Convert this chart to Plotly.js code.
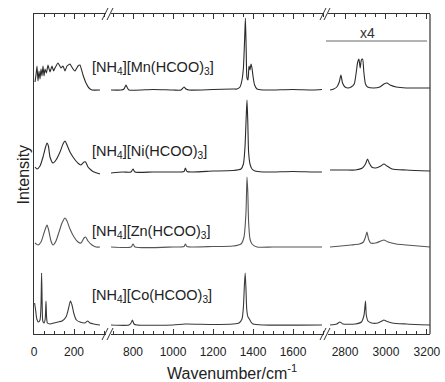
<!DOCTYPE html>
<html>
<head>
<meta charset="utf-8">
<script src="https://cdn.plot.ly/plotly-3.0.1.min.js"></script>
<style>html,body{margin:0;padding:0;background:#fff;}#chart{width:445px;height:382px;}</style>
</head>
<body>
<div id="chart"></div>
<script>
// ---------- data (wavenumber in cm-1, intensity in arbitrary units relative to each baseline) ----------
const compounds = ["Mn", "Ni", "Zn", "Co"];
const offsets = [244, 162, 87, 9];

// [NH4][Mn(HCOO)3]
const mnLowX = [5,10,15,20,25,30,35,40,45,50,55,62,70,80,90,98,105,120,135,145,155,165,180,195,205,220,230,245,260,275,290,330];
const mnLowY = [8,15,24,9,19,11,21,14,24,14,21,17,25,18,24,19,22,27,22,24,19,24,26,21,19,24,25,15,7,2,0,0];
const mnMidX = [690,740,755,765,772,780,900,1000,1040,1055,1065,1080,1200,1300,1320,1335,1345,1352,1358,1362,1366,1370,1375,1380,1385,1390,1395,1400,1408,1420,1450,1500,1600,1700,1745];
const mnMidY = [0,0,1,5,2,0,0.5,0,0,3,1,0,0.5,1,1,3,10,22,50,72,40,12,10,24,20,26,22,14,5,1,0,0,0.5,0,0.5];
const mnHighX = [2727,2745,2760,2772,2780,2788,2800,2815,2830,2845,2855,2862,2868,2874,2880,2886,2892,2900,2910,2940,2970,2990,3005,3020,3050,3100,3150,3200,3215];
const mnHighY = [0,1,3,8,15,7,3,2,3,6,18,28,31,22,30,31,18,6,3,2,3,6,7,5,3,2,2,2,2];

// [NH4][Ni(HCOO)3]
const niLowX = [5,15,30,45,58,65,72,80,95,110,130,145,155,165,180,195,210,225,235,250,258,270,285,300,330];
const niLowY = [5,3,6,15,25,29,26,15,9,12,20,28,31,27,20,15,11,8,7,10,10,5,2,0,-2];
const niMidX = [690,750,790,800,810,900,1000,1055,1062,1070,1200,1300,1340,1352,1360,1366,1370,1374,1378,1385,1395,1410,1450,1500,1600,1700,1745];
const niMidY = [-1,0,0,3,0,0,0,0.5,4,0.5,1,1.5,3,8,25,55,72,50,20,8,3,1,0,0,0.5,0,0];
const niHighX = [2727,2800,2850,2885,2900,2910,2918,2930,2950,2975,2990,3005,3030,3100,3215];
const niHighY = [2,2,2,4,8,13,9,5,4,6,8,6,3,2,1];

// [NH4][Zn(HCOO)3]
const znLowX = [5,20,35,50,60,65,72,85,95,110,125,140,155,165,180,200,220,235,250,258,270,290,310,330];
const znLowY = [4,2,5,14,20,22,18,6,2,6,15,24,29,26,18,10,5,4,9,10,6,2,0,0];
const znMidX = [690,790,800,810,1000,1055,1062,1070,1200,1300,1340,1355,1365,1370,1374,1378,1385,1395,1420,1500,1745];
const znMidY = [0,0,3,0,0,0.5,3,0.5,0.5,1,3,10,35,70,55,25,8,3,0,0,0];
const znHighX = [2727,2780,2830,2870,2890,2900,2907,2915,2925,2950,2975,2990,3010,3050,3100,3215];
const znHighY = [0,1,2,3,5,10,15,8,4,4,6,7,5,3,2,0];

// [NH4][Co(HCOO)3]
const coLowX = [3,8,14,22,30,35,38,41,44,50,56,60,63,67,80,100,120,140,160,172,182,190,200,212,230,255,268,280,300,330];
const coLowY = [22,15,6,3,5,20,52,20,4,2,6,24,8,2,1,2,3,4,8,16,24,20,11,5,3,2,4,2,1,0];
const coMidX = [690,780,790,797,805,820,1000,1060,1200,1300,1330,1345,1352,1357,1361,1365,1369,1375,1382,1390,1400,1450,1745];
const coMidY = [0,0,2,5,1,0,0,1,0.5,1,2,6,18,40,52,35,15,8,6,3,1,0,0];
const coHighX = [2727,2760,2775,2790,2850,2880,2893,2900,2904,2912,2930,2960,2980,2990,3000,3030,3100,3215];
const coHighY = [0,1,3,1,1,3,10,24,10,4,2,2,4,5,4,2,1,0];

const labels = ["[NH<sub>4</sub>][Mn(HCOO)<sub>3</sub>]", "[NH<sub>4</sub>][Ni(HCOO)<sub>3</sub>]",
                "[NH<sub>4</sub>][Zn(HCOO)<sub>3</sub>]", "[NH<sub>4</sub>][Co(HCOO)<sub>3</sub>]"];
const seg1Ticks = [0, 200];
const seg2Ticks = [800, 1000, 1200, 1400, 1600];
const seg3Ticks = [2800, 3000, 3200];
const multiplierText = "x4";

// ---------- drawing ----------
const series = {
  Mn: [[mnLowX, mnLowY], [mnMidX, mnMidY], [mnHighX, mnHighY]],
  Ni: [[niLowX, niLowY], [niMidX, niMidY], [niHighX, niHighY]],
  Zn: [[znLowX, znLowY], [znMidX, znMidY], [znHighX, znHighY]],
  Co: [[coLowX, coLowY], [coMidX, coMidY], [coHighX, coHighY]]
};
const axisNames = ["x", "x2", "x3"];
const lineColors = {Mn: "#2b2b2b", Ni: "#2b2b2b", Zn: "#555555", Co: "#3a3a3a"};
const traces = [];
compounds.forEach((c, i) => {
  series[c].forEach((seg, k) => {
    traces.push({
      x: seg[0], y: seg[1].map(v => v + offsets[i]),
      xaxis: axisNames[k], yaxis: "y", mode: "lines",
      line: {color: lineColors[c], width: 1.1, shape: "spline", smoothing: (c === "Mn" && k === 0) ? 0.3 : 0.6},
      hoverinfo: "skip"
    });
  });
});

// pixel helpers for decorations
const L = 34, R = 430, T = 14, B = 334;
const px = x => (x - L) / (R - L);
const py = y => (B - y) / (B - T);
const FONT = "Liberation Sans, Arial, sans-serif";

const axCommon = {
  anchor: "y", showline: true, linecolor: "#333", linewidth: 1.2, mirror: "allticks",
  ticks: "inside", ticklen: 5, tickwidth: 1, tickcolor: "#333",
  tickmode: "linear", tick0: 0, dtick: 200, ticklabelstandoff: 6,
  minor: {ticks: "inside", ticklen: 3, dtick: 50, tick0: 0, tickcolor: "#333", tickwidth: 1},
  showgrid: false, zeroline: false, fixedrange: true,
  tickfont: {family: FONT, size: 12, color: "#222"}
};

const layout = {
  width: 445, height: 382,
  margin: {l: L, r: 445 - R, t: T, b: 382 - B},
  paper_bgcolor: "#fff", plot_bgcolor: "#fff",
  showlegend: false,
  xaxis: Object.assign({}, axCommon, {domain: [0, px(106)], range: [0, 360]}),
  xaxis2: Object.assign({}, axCommon, {domain: [px(111), px(324)], range: [690, 1755]}),
  xaxis3: Object.assign({}, axCommon, {domain: [px(328), 1], range: [2717, 3215]}),
  yaxis: {range: [0, 320], showticklabels: false, ticks: "", showline: true, linecolor: "#333",
          linewidth: 1.2, showgrid: false, zeroline: false, anchor: "x", fixedrange: true},
  shapes: [],
  annotations: []
};

// right frame line
layout.shapes.push({type: "line", xref: "paper", yref: "paper", x0: 1, x1: 1, y0: 0, y1: 1,
                    line: {color: "#333", width: 1.2}});
// axis break marks
[[106, 111], [324, 328]].forEach(g => {
  [B, T].forEach(yy => {
    [g[0] - 1, g[1] - 1].forEach(xx => {
      layout.shapes.push({type: "line", xref: "paper", yref: "paper",
        x0: px(xx - 3), y0: py(yy + 6), x1: px(xx + 3), y1: py(yy - 6),
        line: {color: "#333", width: 1}});
    });
  });
});
// x4 bracket line
layout.shapes.push({type: "line", xref: "paper", yref: "paper", x0: px(326), x1: px(427),
                    y0: py(41), y1: py(41), line: {color: "#666", width: 1}});
layout.annotations.push({xref: "paper", yref: "paper", x: px(377), y: py(33), yanchor: "middle",
  text: multiplierText, showarrow: false, font: {family: FONT, size: 14, color: "#333"}});

// compound labels
const labelY = [68, 152, 232, 296];
labels.forEach((t, i) => {
  layout.annotations.push({xref: "paper", yref: "paper", x: px(90), y: py(labelY[i]), xanchor: "left",
    yanchor: "middle", text: t, showarrow: false,
    font: {family: FONT, size: 14.5, color: "#222"}});
});
// axis titles
layout.annotations.push({xref: "paper", yref: "paper", x: 0.5, y: py(372), yanchor: "middle",
  text: "Wavenumber/cm<sup>-1</sup>", showarrow: false,
  font: {family: FONT, size: 16, color: "#222"}});
layout.annotations.push({xref: "paper", yref: "paper", x: px(12), y: py(175), textangle: -90,
  text: "Intensity", showarrow: false,
  font: {family: FONT, size: 16, color: "#222"}});

Plotly.newPlot("chart", traces, layout, {staticPlot: true, displayModeBar: false});
</script>
</body>
</html>
